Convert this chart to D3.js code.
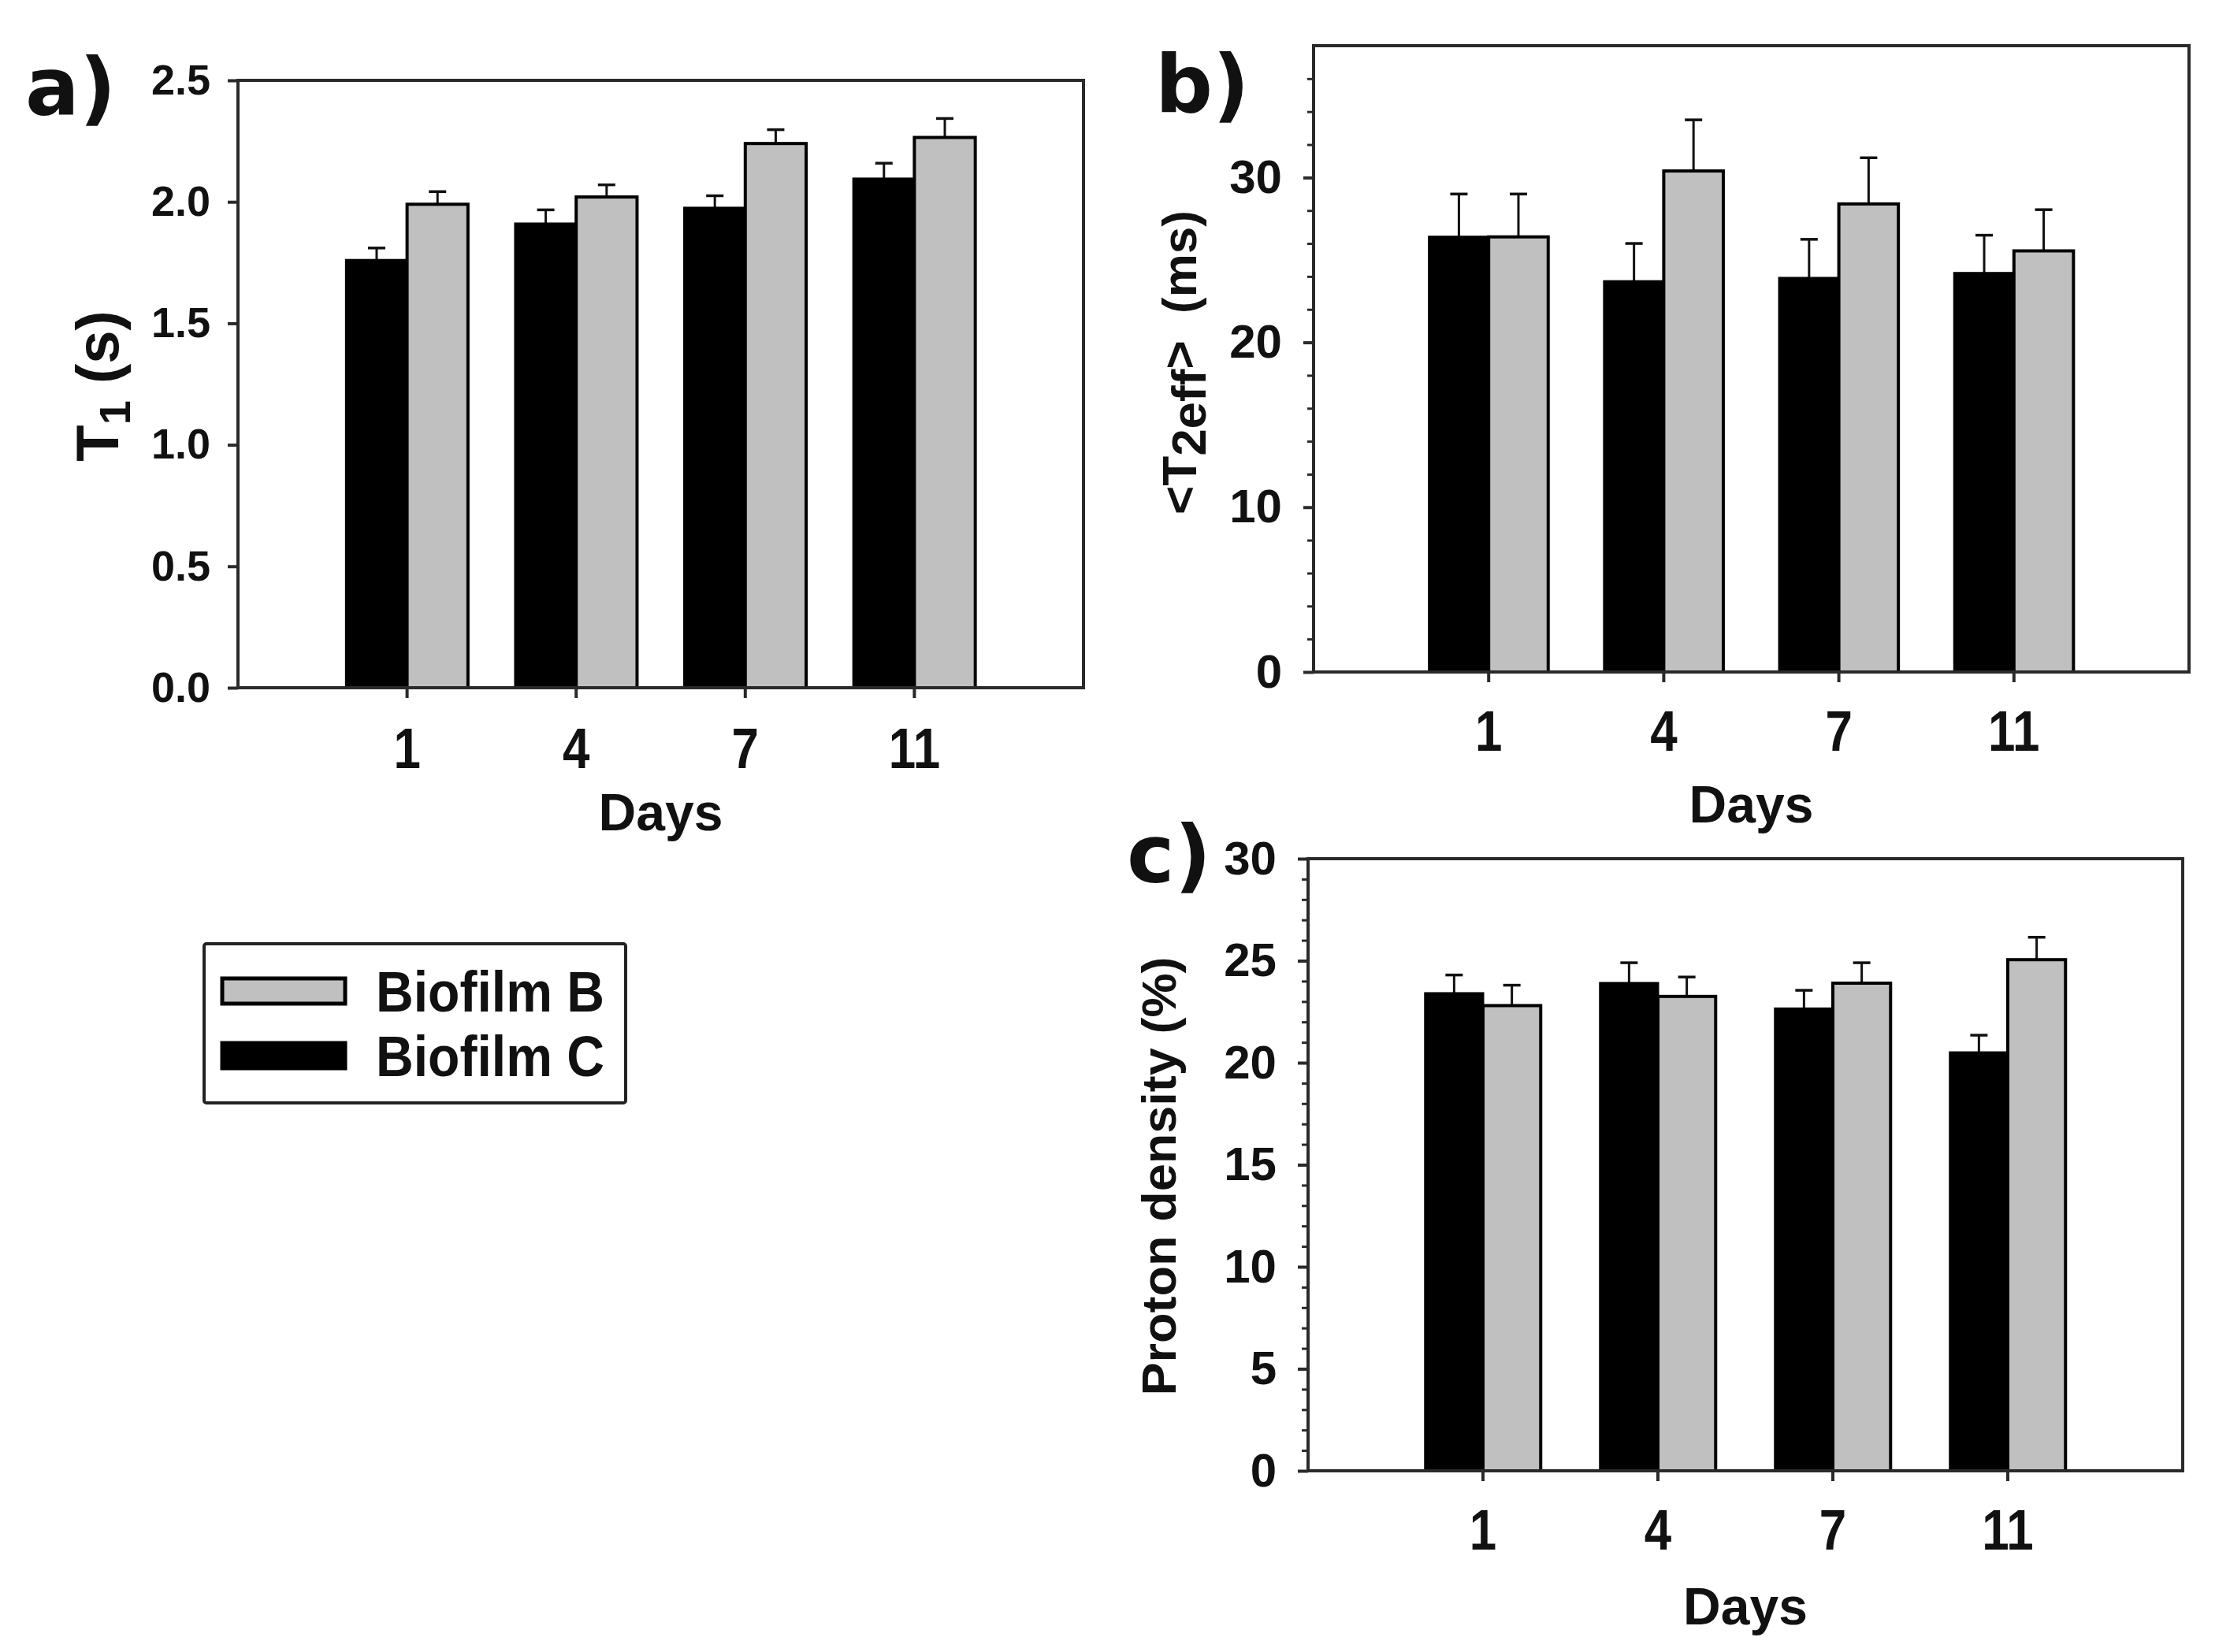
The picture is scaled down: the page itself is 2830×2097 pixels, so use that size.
<!DOCTYPE html>
<html>
  <head>
    <meta charset="utf-8">
    <title></title>
    <script type="text/javascript" src="https://d3js.org/d3.v7.min.js"></script>
    <style media="screen">
      body { margin: 0; background: #fff; }
      text { font-family: "Liberation Sans", Arial, sans-serif; font-weight: bold; fill: #111; }
    </style>
  </head>
  <body>
    <div class="vis"></div>
    <script type="text/javascript">
      var w = 2830;
      var h = 2097;

      var days = ["1", "4", "7", "11"];
      var seriesNames = ["Biofilm B", "Biofilm C"];

      // a) T1 (s)
      var t1C = [1.76, 1.91, 1.975, 2.095];
      var t1CErr = [0.05, 0.057, 0.05, 0.064];
      var t1B = [1.99, 2.02, 2.24, 2.265];
      var t1BErr = [0.052, 0.05, 0.057, 0.078];
      var t1Ticks = [0.0, 0.5, 1.0, 1.5, 2.0, 2.5];

      // b) <T2eff> (ms)
      var t2C = [26.4, 23.7, 23.9, 24.2];
      var t2CErr = [2.6, 2.3, 2.35, 2.3];
      var t2B = [26.4, 30.4, 28.4, 25.55];
      var t2BErr = [2.6, 3.1, 2.8, 2.5];
      var t2Ticks = [0, 10, 20, 30];

      // c) Proton density (%)
      var pdC = [23.4, 23.9, 22.65, 20.5];
      var pdCErr = [0.9, 1.0, 0.9, 0.85];
      var pdB = [22.8, 23.25, 23.9, 25.05];
      var pdBErr = [1.0, 0.95, 1.0, 1.1];
      var pdTicks = [0, 5, 10, 15, 20, 25, 30];

      var svg = d3.select('.vis')
        .append('svg')
        .attr('width', w)
        .attr('height', h);

      function drawPanel(p) {
        var g = svg.append('g');
        var xscale = d3.scaleBand()
          .domain(days)
          .range([p.x0, p.x1])
          .paddingInner(0)
          .paddingOuter(0.5);
        var yscale = d3.scaleLinear()
          .domain([0, p.ymax])
          .range([p.y1, p.y0]);
        var step = xscale.step();
        var bw = step * p.barFrac;
        var cx = function(d) { return xscale(d) + xscale.bandwidth() / 2; };

        var rows = days.map(function(d, i) {
          return {day: d, c: p.c[i], cErr: p.cErr[i], b: p.b[i], bErr: p.bErr[i]};
        });
        // error bars (drawn behind the bars)
        var errs = [];
        rows.forEach(function(r) {
          errs.push({x: cx(r.day) - bw / 2, v: r.c, e: r.cErr});
          errs.push({x: cx(r.day) + bw / 2, v: r.b, e: r.bErr});
        });
        g.selectAll('.err').data(errs).enter().append('line')
          .attr('x1', function(d) { return d.x; })
          .attr('x2', function(d) { return d.x; })
          .attr('y1', function(d) { return yscale(d.v); })
          .attr('y2', function(d) { return yscale(d.v + d.e); })
          .attr('stroke', '#111').attr('stroke-width', 3);
        g.selectAll('.cap').data(errs).enter().append('line')
          .attr('x1', function(d) { return d.x - 11; })
          .attr('x2', function(d) { return d.x + 11; })
          .attr('y1', function(d) { return yscale(d.v + d.e); })
          .attr('y2', function(d) { return yscale(d.v + d.e); })
          .attr('stroke', '#111').attr('stroke-width', 3.5);

        // black (C) left, grey (B) right
        g.selectAll('.barC').data(rows).enter().append('rect')
          .attr('x', function(d) { return cx(d.day) - bw; })
          .attr('y', function(d) { return yscale(d.c); })
          .attr('width', bw)
          .attr('height', function(d) { return yscale(0) - yscale(d.c); })
          .attr('fill', '#000').attr('stroke', '#000').attr('stroke-width', 3);
        g.selectAll('.barB').data(rows).enter().append('rect')
          .attr('x', function(d) { return cx(d.day); })
          .attr('y', function(d) { return yscale(d.b); })
          .attr('width', bw)
          .attr('height', function(d) { return yscale(0) - yscale(d.b); })
          .attr('fill', '#c0c0c0').attr('stroke', '#000').attr('stroke-width', 4);

        // frame
        g.append('rect')
          .attr('x', p.x0).attr('y', p.y0)
          .attr('width', p.x1 - p.x0).attr('height', p.y1 - p.y0)
          .attr('fill', 'none').attr('stroke', '#2a2a2a').attr('stroke-width', 4);

        // y axis
        var yAxis = d3.axisLeft(yscale)
          .tickValues(p.ticks)
          .tickFormat(d3.format(p.fmt))
          .tickSize(13)
          .tickPadding(p.ypad);
        var ya = g.append('g')
          .attr('transform', 'translate(' + p.x0 + ',0)')
          .call(yAxis);
        ya.select('.domain').remove();
        ya.selectAll('line').attr('stroke', '#2a2a2a').attr('stroke-width', 4);
        ya.selectAll('text').style('font-size', p.yfont + 'px').attr('fill', '#111');

        if (p.minor) {
          var minorAxis = d3.axisLeft(yscale)
            .tickValues(d3.range(0, p.ymax, p.minor).filter(function(v) {
              return p.ticks.indexOf(v) < 0;
            }))
            .tickFormat('')
            .tickSize(8);
          var ma = g.append('g')
            .attr('transform', 'translate(' + p.x0 + ',0)')
            .call(minorAxis);
          ma.select('.domain').remove();
          ma.selectAll('line').attr('stroke', '#2a2a2a').attr('stroke-width', 3);
        }

        // x axis, labels a bit condensed like the original
        var xAxis = d3.axisBottom(xscale)
          .tickSize(13)
          .tickPadding(p.xpad);
        var xa = g.append('g')
          .attr('transform', 'translate(0,' + p.y1 + ')')
          .call(xAxis);
        xa.select('.domain').remove();
        xa.selectAll('line').attr('stroke', '#2a2a2a').attr('stroke-width', 4);
        xa.selectAll('text')
          .style('font-size', '72px')
          .attr('fill', '#111')
          .attr('transform', 'scale(0.86,1)');

        g.append('text')
          .attr('x', (p.x0 + p.x1) / 2)
          .attr('y', p.daysY)
          .attr('text-anchor', 'middle')
          .style('font-size', '66px')
          .text('Days');

        g.append('text')
          .attr('x', p.labX)
          .attr('y', p.labY)
          .style('font-size', '102px')
          .style('font-family', '"DejaVu Sans", Verdana, sans-serif')
          .text(p.label);

        return g;
      }

      drawPanel({
        x0: 302, x1: 1375, y0: 102, y1: 873, ymax: 2.5,
        c: t1C, cErr: t1CErr, b: t1B, bErr: t1BErr,
        ticks: t1Ticks, fmt: '.1f', minor: 0, yfont: 54, ypad: 22, xpad: 38,
        barFrac: 0.36, daysY: 1054, label: 'a)', labX: 32, labY: 146
      });
      drawPanel({
        x0: 1667, x1: 2778, y0: 58, y1: 853, ymax: 38,
        c: t2C, cErr: t2CErr, b: t2B, bErr: t2BErr,
        ticks: t2Ticks, fmt: 'd', minor: 2, yfont: 60, ypad: 27, xpad: 36,
        barFrac: 0.34, daysY: 1044, label: 'b)', labX: 1466, labY: 142
      });
      drawPanel({
        x0: 1660, x1: 2770, y0: 1090, y1: 1867, ymax: 30,
        c: pdC, cErr: pdCErr, b: pdB, bErr: pdBErr,
        ticks: pdTicks, fmt: 'd', minor: 1, yfont: 60, ypad: 27, xpad: 36,
        barFrac: 0.33, daysY: 2062, label: 'c)', labX: 1430, labY: 1120
      });

      // y titles
      var ta = svg.append('text')
        .attr('transform', 'translate(150,490) rotate(-90)')
        .attr('text-anchor', 'middle')
        .style('font-size', '76px');
      ta.append('tspan').text('T');
      ta.append('tspan').attr('dy', 15).style('font-size', '56px').text('1');
      ta.append('tspan').attr('dy', -15).text(' (s)');

      var tb = svg.append('text')
        .attr('transform', 'translate(1518,460) rotate(-90)')
        .attr('text-anchor', 'middle')
        .style('font-size', '62px');
      tb.append('tspan').text('<T');
      tb.append('tspan').attr('dy', 12).text('2eff');
      tb.append('tspan').attr('dy', -12).text('>\u00a0\u00a0(ms)');

      svg.append('text')
        .attr('transform', 'translate(1492,1493) rotate(-90)')
        .attr('text-anchor', 'middle')
        .style('font-size', '62px')
        .attr('textLength', 557)
        .attr('lengthAdjust', 'spacingAndGlyphs')
        .text('Proton density (%)');

      // legend
      var legend = svg.append('g');
      legend.append('rect')
        .attr('x', 259).attr('y', 1198).attr('width', 535).attr('height', 202)
        .attr('rx', 3)
        .attr('fill', '#fff').attr('stroke', '#222').attr('stroke-width', 4);
      var legFill = ['#c0c0c0', '#000'];
      var legY = d3.scalePoint().domain(seriesNames).range([1258, 1340]);
      legend.selectAll('.sw').data(seriesNames).enter().append('rect')
        .attr('x', 282)
        .attr('y', function(d) { return legY(d) - 16; })
        .attr('width', 156).attr('height', 32)
        .attr('fill', function(d, i) { return legFill[i]; })
        .attr('stroke', '#000').attr('stroke-width', 5);
      legend.selectAll('.lt').data(seriesNames).enter().append('text')
        .attr('x', 477)
        .attr('y', function(d) { return legY(d) + 26; })
        .style('font-size', '72px')
        .attr('textLength', 290)
        .attr('lengthAdjust', 'spacingAndGlyphs')
        .text(function(d) { return d; });
    </script>
  </body>
</html>
